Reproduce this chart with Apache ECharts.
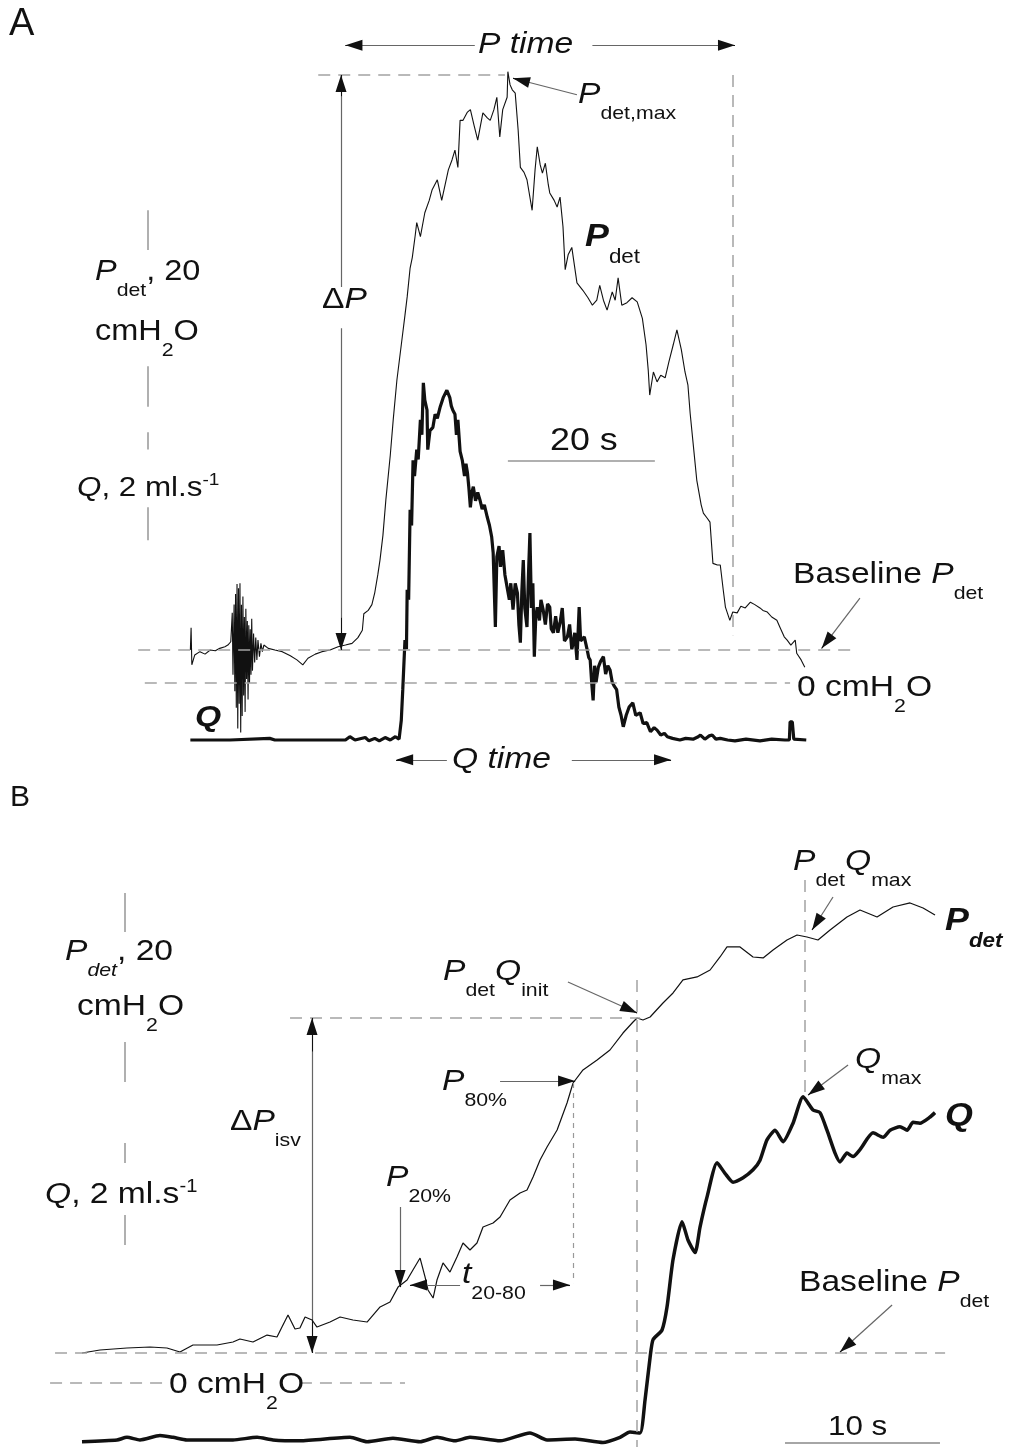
<!DOCTYPE html>
<html>
<head>
<meta charset="utf-8">
<script src="https://cdn.jsdelivr.net/npm/echarts@6/dist/echarts.min.js"></script>
<style>
  html, body { margin: 0; padding: 0; background: #fff; }
  #main { width: 1015px; height: 1447px; }
</style>
</head>
<body>
<div id="main"></div>
<script>
// ---- panel A traces: [time s, value] ----
var pdetA = [[-0.1,4.0],[0,6.7],[0.1,2.2],[0.5,3.4],[1.2,3.8],[1.9,3.5],[2.6,4.0],[3.3,3.9],[3.9,4.2],[4.6,4.4],
  [5.0,4.6],[5.4,5.0],[5.6,8.5],[5.7,1.0],[5.85,9.5],[5.95,-1.0],[6.05,10.8],[6.15,-3.0],[6.25,12.0],[6.35,-5.5],
  [6.45,11.5],[6.55,-2.5],[6.65,12.1],[6.75,-6.0],[6.85,9.5],[6.95,-4.0],[7.05,10.5],[7.15,-1.5],[7.25,8.0],[7.35,-3.5],
  [7.45,9.0],[7.55,0.5],[7.65,7.5],[7.75,-2.0],[7.85,7.0],[7.95,0.0],[8.05,6.5],[8.15,1.0],[8.25,7.8],[8.35,1.5],
  [8.5,6.0],[8.65,2.5],[8.8,5.5],[8.95,2.8],[9.1,5.2],[9.3,3.2],[9.5,4.8],[9.7,3.8],[9.9,4.6],
  [10.5,4.2],[11.4,4.0],[12.4,3.8],[13.5,3.3],[14.4,2.8],[15.2,2.2],[15.9,3.0],[16.9,3.5],[17.8,3.8],[18.9,4.0],
  [20.0,4.4],[21.0,4.6],[21.9,4.8],[22.7,5.5],[23.3,6.4],[23.5,8.4],[24.1,8.8],[24.6,9.5],[25.0,11.0],[25.4,13.1],
  [25.7,14.9],[26.1,17.9],[26.5,22.2],[27.1,27.6],[27.5,31.9],[28.0,36.7],[28.6,41.0],[29.1,44.6],[29.4,46.8],[29.8,50.3],
  [30.1,51.6],[30.5,54.3],[30.7,55.8],[31.2,54.1],[31.8,57.0],[32.4,58.5],[32.8,59.8],[33.5,61.0],[34.1,58.5],[35.0,62.2],
  [35.5,63.4],[35.9,64.6],[36.3,62.5],[36.6,68.2],[37.0,68.2],[37.6,69.2],[38.0,69.5],[38.5,67.6],[39.0,65.8],[39.7,69.1],
  [40.3,68.5],[40.7,68.2],[41.2,69.5],[41.6,71.0],[42.0,66.2],[42.4,69.5],[43.0,71.0],[43.1,74.1],[43.4,72.5],[43.7,71.9],
  [44.1,71.5],[44.5,67.0],[44.8,62.5],[45.3,61.9],[45.7,61.0],[46.4,57.3],[46.8,62.2],[47.1,65.0],[47.5,62.8],[47.8,61.8],
  [48.2,63.0],[48.6,60.4],[48.8,59.4],[49.4,58.5],[49.8,57.7],[50.2,58.9],[50.6,55.3],[50.9,50.1],[51.3,51.9],[51.8,52.8],
  [52.5,48.5],[53.3,47.6],[54.0,46.7],[54.6,45.8],[55.2,46.4],[55.6,48.2],[56.1,46.4],[56.6,45.2],[57.3,47.4],[57.7,46.4],
  [58.1,49.1],[58.6,45.8],[59.3,46.1],[60.0,46.7],[60.7,46.2],[61.4,44.2],[61.9,41.0],[62.2,37.9],[62.4,34.9],[62.9,37.7],
  [63.4,36.5],[63.9,37.3],[64.5,37.0],[65.0,38.9],[65.6,41.0],[66.1,42.8],[66.7,40.4],[67.2,37.7],[67.6,36.1],[67.9,32.7],
  [68.4,28.2],[68.8,24.6],[69.4,21.6],[69.7,20.6],[70.2,20.0],[70.6,19.5],[71.0,14.5],[71.6,14.3],[72.0,14.3],[72.4,11.3],
  [72.7,9.2],[73.3,7.6],[73.7,8.6],[74.3,8.5],[74.8,9.3],[75.4,9.1],[76.1,9.8],[76.7,9.5],[77.4,9.1],[77.8,8.8],
  [78.4,8.6],[79.0,8.0],[79.7,7.6],[80.1,6.8],[80.7,5.6],[81.1,5.2],[81.6,4.6],[82.2,5.2],[82.4,3.6],[83.0,2.8],[83.5,1.9]];

var qA = [[-0.1,0],[5.3,0],[10.7,0.02],[11.4,0],[21.0,0],[21.6,0.04],[22.3,0],[23.7,0.03],[24.2,-0.01],[25.0,0.02],
  [25.6,-0.01],[26.4,0.03],[27.1,0],[27.8,0.04],[28.3,0.01],[28.6,0.24],[28.8,0.61],[29.1,1.21],[29.3,1.1],[29.4,1.82],
  [29.6,1.7],[29.8,2.79],[30.0,2.6],[30.2,3.39],[30.4,3.2],[30.7,3.52],[30.9,3.4],[31.2,3.88],[31.4,3.7],[31.6,4.33],
  [31.8,4.12],[32.1,4.00],[32.2,3.52],[32.5,3.75],[32.9,3.79],[33.2,3.95],[33.5,3.9],[33.9,4.04],[34.3,4.15],[34.8,4.24],
  [35.2,4.15],[35.4,4.05],[35.6,4.00],[35.9,3.95],[36.1,3.7],[36.3,3.88],[36.6,3.5],[36.9,3.39],[37.2,3.2],[37.4,3.35],
  [37.6,3.24],[37.8,3.05],[38.0,2.82],[38.2,3.0],[38.4,3.07],[38.7,2.9],[39.0,3.0],[39.3,2.91],[39.6,2.8],[39.9,2.85],
  [40.3,2.70],[40.6,2.6],[40.9,2.46],[41.1,2.27],[41.4,1.37],[41.6,2.22],[41.9,2.35],[42.1,2.1],[42.4,2.30],[42.7,2.0],
  [43.0,1.85],[43.3,1.7],[43.5,1.9],[43.8,1.58],[44.1,1.9],[44.4,1.78],[44.6,1.4],[44.8,1.18],[45.0,1.8],[45.2,2.18],
  [45.4,1.6],[45.7,1.37],[45.9,2.0],[46.1,2.51],[46.3,1.6],[46.5,1.9],[46.7,1.01],[46.9,1.5],[47.1,1.61],[47.4,1.45],
  [47.6,1.7],[47.9,1.58],[48.2,1.4],[48.5,1.65],[48.8,1.61],[49.0,1.35],[49.3,1.30],[49.6,1.5],[49.9,1.3],[50.2,1.42],
  [50.5,1.6],[50.8,1.2],[51.2,1.25],[51.5,1.4],[51.8,1.1],[52.0,1.18],[52.2,1.3],[52.5,0.97],[52.8,1.61],[53.0,1.2],
  [53.2,1.18],[53.5,1.25],[53.9,1.09],[54.1,1.0],[54.3,0.97],[54.5,0.7],[54.7,0.48],[54.9,0.9],[55.1,0.7],[55.4,0.88],
  [55.7,0.95],[56.1,1.01],[56.4,0.8],[56.7,0.9],[57.0,0.85],[57.3,0.7],[57.6,0.65],[57.9,0.61],[58.2,0.4],[58.5,0.3],
  [58.8,0.16],[59.2,0.3],[59.6,0.4],[60.1,0.45],[60.5,0.3],[61.1,0.33],[61.5,0.2],[62.0,0.21],[62.5,0.1],[63.0,0.15],
  [63.4,0.12],[63.9,0.06],[64.4,0.08],[64.8,0.04],[65.5,0.02],[66.5,0],[67.3,0.02],[68.3,0.01],[69.0,0.04],[69.3,0.06],
  [69.9,0.01],[70.5,0.05],[70.9,0.06],[71.4,0.01],[72.0,0.02],[73.0,0],[74.0,-0.01],[75.5,0.01],[77.4,-0.01],[79.0,0.01],
  [80.8,0],[81.4,0],[81.5,0.22],[81.8,0.22],[82.0,0.01],[83.7,0]];

// ---- panel B traces ----
var pdetB = [[0,3.41],[1.16,3.75],[2.90,3.98],[4.39,4.09],[5.48,3.98],[6.32,3.52],[7.16,4.32],[8.71,4.32],[9.74,4.66],[10.19,5.0],
  [11.03,4.66],[11.94,5.45],[12.58,5.23],[12.90,6.36],[13.29,7.73],[13.74,6.14],[14.06,6.25],[14.39,7.5],[14.84,7.16],[15.16,6.36],
  [16.0,6.93],[16.65,7.5],[17.48,7.16],[18.39,6.93],[19.23,8.64],[19.87,9.2],[20.39,10.9],[20.97,11.7],[21.35,12.84],[21.81,14.2],
  [22.13,12.05],[22.32,10.57],[22.65,9.66],[22.9,11.7],[23.29,13.64],[23.74,12.61],[24.19,14.32],[24.58,15.91],[25.03,15.11],[25.48,15.91],
  [25.87,17.73],[26.52,18.18],[26.97,18.86],[27.61,20.8],[28.26,21.59],[28.71,21.93],[29.1,23.41],[29.55,25.34],[30.0,26.82],[30.65,28.75],
  [31.29,31.82],[31.68,34.09],[32.32,35.57],[33.23,36.7],[34.06,37.84],[34.9,39.77],[35.55,41.02],[35.81,41.48],[36.19,41.25],[36.65,41.59],
  [37.48,43.18],[38.13,44.32],[38.77,45.8],[39.68,46.14],[40.52,46.93],[41.16,48.41],[41.61,49.55],[42.45,49.55],[43.29,48.41],[43.94,48.3],
  [44.58,49.2],[45.48,50.34],[46.13,50.91],[46.77,50.68],[47.48,50.34],[48.26,51.48],[49.35,52.95],[50.19,53.75],[51.29,52.95],[52.32,54.09],
  [53.42,54.55],[54.26,53.98],[55.03,53.18]];

var qB = [[0,-0.02],[2.26,0],[2.9,0.03],[3.74,0],[5.03,0.05],[5.87,0.03],[6.77,0],[9.74,0],[11.29,0.03],[12.32,0],
  [14.06,-0.01],[17.29,0.03],[18.39,-0.02],[20.06,0.02],[21.81,-0.02],[22.9,0.03],[24.06,-0.01],[25.03,0.03],[26.97,-0.01],[28.9,0.08],
  [30.0,0],[31.81,0.01],[33.61,-0.03],[34.71,0.03],[35.35,0.09],[36.0,0.08],[36.32,0.45],[36.65,0.94],[36.84,1.14],[37.42,1.25],
  [37.74,1.51],[38.13,2.05],[38.71,2.48],[39.1,2.27],[39.55,2.13],[39.87,2.42],[40.32,2.76],[40.97,3.15],[41.48,3.03],[42.0,2.93],
  [42.65,2.98],[43.29,3.07],[43.74,3.18],[44.19,3.41],[44.71,3.52],[45.23,3.39],[45.87,3.6],[46.52,3.9],[47.16,3.75],[47.61,3.72],
  [48.06,3.52],[48.58,3.26],[48.9,3.16],[49.35,3.26],[49.74,3.22],[50.19,3.3],[51.03,3.49],[51.68,3.44],[52.13,3.52],[52.77,3.56],
  [53.23,3.52],[53.61,3.61],[54.06,3.6],[54.71,3.67],[55.03,3.72]];

// key annotation values (s, cmH2O, ml/s)
var A_base = 4.0, A_maxP = 73.7, A_tEnd = 73.7, A_bar = -5.86;
var B_base = 3.41, B_init = 41.48, B_tInit = 35.81, B_tQmax = 46.65, B_t80 = 31.68, B_p80 = 34.32, B_bar = 2.75;

var FONT = '"Liberation Sans", Arial, Helvetica, sans-serif';
var SX = 1.12;
var HEAD = 'path://M0,-18L0.01,-18M0,0L6,18L-6,18Z';
var DASH = { color: '#a3a3a3', width: 1.5, type: [12, 8] };
var BAR = { color: '#b0b0b0', width: 2, type: 'solid' };

function seg(a, b, style) {
  return [{ coord: a, symbol: 'none', lineStyle: style }, { coord: b, symbol: 'none' }];
}
function head(from, to) {
  var k = 0.9;
  var m = [from[0] + (to[0] - from[0]) * k, from[1] + (to[1] - from[1]) * k];
  return [{ coord: m, symbol: 'none', lineStyle: { color: '#111', width: 1, type: 'solid' } },
          { coord: to, symbol: HEAD, symbolSize: [11, 34] }];
}
function arrow(from, to, both) {
  var out = [seg(from, to, { color: '#666', width: 1.2, type: 'solid' }), head(from, to)];
  if (both) out.push(head(to, from));
  return out;
}
function mark(list) {
  return { silent: true, animation: false, symbol: ['none', 'none'], label: { show: false },
    emphasis: { disabled: true }, data: list };
}

function richFor(size) {
  var M = Math.round(size * 0.45);
  var sub = Math.round(size * 0.64), sup = Math.round(size * 0.6);
  var base = M + 0.8465 * size;
  function st(fs, b, style, weight) {
    return { fontSize: fs, fontFamily: FONT, fontStyle: style, fontWeight: weight, fill: '#111',
      verticalAlign: 'top', padding: [Math.max(0, Math.round(b - 0.8465 * fs)), 0, 0, 0] };
  }
  var sb = base + size * 0.53, ub = base - size * 0.42;
  return { base: base, rich: {
    n: st(size, base, 'normal', 'normal'), i: st(size, base, 'italic', 'normal'),
    b: st(size, base, 'italic', 'bold'), s: st(sub, sb, 'normal', 'normal'),
    si: st(sub, sb, 'italic', 'normal'), sb: st(sub, sb, 'italic', 'bold'),
    u: st(sup, ub, 'normal', 'normal') } };
}
function label(x, baseline, size, parts, sx) {
  var r = richFor(size);
  return { type: 'text', x: x, y: baseline - r.base, scaleX: sx || SX, z: 100, silent: true,
    style: { text: parts.map(function (p) { return '{' + p[1] + '|' + p[0] + '}'; }).join(''),
      rich: r.rich, align: 'left', verticalAlign: 'top', fill: '#111' } };
}

var texts = [
  label(9, 38, 38, [['A', 'n']], 1),
  label(478, 55, 30, [['P time', 'i']]),
  label(578, 105, 30, [['P', 'i'], ['det,max', 's']]),
  label(585, 248, 32, [['P', 'b'], ['det', 's']]),
  label(95, 282, 29, [['P', 'i'], ['det', 's'], [', 20', 'n']]),
  label(95, 342, 29, [['cmH', 'n'], ['2', 's'], ['O', 'n']]),
  label(77, 498, 28, [['Q', 'i'], [', 2 ml.s', 'n'], ['-1', 'u']]),
  label(322, 310, 30, [['\u0394', 'n'], ['P', 'i']]),
  label(550, 452, 32, [['20 s', 'n']]),
  label(793, 585, 30, [['Baseline ', 'n'], ['P', 'i'], ['det', 's']]),
  label(797, 698, 30, [['0 cmH', 'n'], ['2', 's'], ['O', 'n']]),
  label(195, 728, 30, [['Q', 'b']]),
  label(452, 770, 30, [['Q time', 'i']]),

  label(10, 808, 30, [['B', 'n']], 1),
  label(65, 962, 30, [['P', 'i'], ['det', 'si'], [', 20', 'n']]),
  label(77, 1017, 30, [['cmH', 'n'], ['2', 's'], ['O', 'n']]),
  label(45, 1205, 30, [['Q', 'i'], [', 2 ml.s', 'n'], ['-1', 'u']]),
  label(793, 872, 30, [['P', 'i'], ['det', 's'], ['Q', 'i'], ['max', 's']]),
  label(945, 932, 32, [['P', 'b'], ['det', 'sb']]),
  label(443, 982, 30, [['P', 'i'], ['det', 's'], ['Q', 'i'], ['init', 's']]),
  label(442, 1092, 30, [['P', 'i'], ['80%', 's']]),
  label(855, 1070, 30, [['Q', 'i'], ['max', 's']]),
  label(945, 1127, 32, [['Q', 'b']]),
  label(230, 1132, 30, [['\u0394', 'n'], ['P', 'i'], ['isv', 's']]),
  label(386, 1188, 30, [['P', 'i'], ['20%', 's']]),
  label(462, 1285, 30, [['t', 'i'], ['20-80', 's']]),
  label(799, 1293, 30, [['Baseline ', 'n'], ['P', 'i'], ['det', 's']]),
  label(169, 1395, 30, [['0 cmH', 'n'], ['2', 's'], ['O', 'n']]),
  label(828, 1437, 28, [['10 s', 'n']])
];

var markPA = [].concat(
  [seg([-7.2, A_base], [89.7, A_base], DASH), seg([-6.3, 0], [81.5, 0], DASH),
   seg([17.3, A_maxP], [42.7, A_maxP], DASH), seg([A_tEnd, A_maxP], [A_tEnd, 5.8], DASH),
   seg([43.1, 27.0], [63.1, 27.0], BAR),
   seg([A_bar, 57.3], [A_bar, 52.5], BAR), seg([A_bar, 38.4], [A_bar, 33.5], BAR)],
  arrow([20.4, 48.0], [20.4, A_maxP]), arrow([20.4, 43.0], [20.4, A_base]),
  arrow([38.6, 77.3], [21.0, 77.3]), arrow([54.6, 77.3], [74.0, 77.3]),
  arrow([52.5, 71.3], [43.8, 73.3]), arrow([91.0, 10.3], [85.8, 4.2])
);
var markQA = [].concat(
  [seg([A_bar, 3.73], [A_bar, 3.52], BAR), seg([A_bar, 2.82], [A_bar, 2.42], BAR)],
  arrow([34.8, -0.24], [27.9, -0.24]), arrow([51.8, -0.24], [65.3, -0.24])
);
var markPB = [].concat(
  [seg([-1.74, B_base], [55.68, B_base], DASH),
   seg([-2.06, 0], [5.35, 0], DASH), seg([14.06, 0], [20.84, 0], DASH),
   seg([13.42, B_init], [36.0, B_init], DASH),
   seg([B_tInit, 45.8], [B_tInit, -7.27], DASH),
   seg([B_tQmax, 57.16], [B_tQmax, 32.73], DASH),
   seg([B_t80, 34.09], [B_t80, 11.36], { color: '#999', width: 1.2, type: [5, 5] }),
   seg([45.35, -6.82], [55.35, -6.82], { color: '#888', width: 1.5, type: 'solid' }),
   seg([B_bar, 55.68], [B_bar, 51.25], BAR), seg([B_bar, 38.75], [B_bar, 34.2], BAR)],
  arrow([14.84, B_init], [14.84, B_base], true),
  arrow([24.39, 11.14], [21.16, 11.14]), arrow([29.55, 11.14], [31.48, 11.14]),
  arrow([20.52, 20.0], [20.52, 10.9]), arrow([26.97, B_p80], [31.81, B_p80]),
  arrow([31.35, 45.57], [35.81, 42.05]), arrow([48.45, 55.23], [47.1, 51.48]),
  arrow([52.26, 8.86], [48.9, 3.52])
);
var markQB = [].concat(
  [seg([B_bar, 3.375], [B_bar, 3.148], BAR), seg([B_bar, 2.557], [B_bar, 2.216], BAR)],
  arrow([49.42, 4.26], [46.84, 3.92])
);

function trace(name, data, x, y, width, marks, smooth) {
  return { name: name, type: 'line', xAxisIndex: x, yAxisIndex: y, data: data, symbol: 'none',
    smooth: smooth || false, animation: false, silent: true, clip: false,
    lineStyle: { color: '#111', width: width }, markLine: mark(marks) };
}

var option = {
  backgroundColor: '#fff',
  grid: [
    { left: 0, top: 0, width: 1015, height: 782 },
    { left: 0, top: 780, width: 1015, height: 667 }
  ],
  xAxis: [
    { gridIndex: 0, type: 'value', min: -26, max: 112.1, show: false },
    { gridIndex: 1, type: 'value', min: -5.29, max: 60.19, show: false }
  ],
  yAxis: [
    { gridIndex: 0, type: 'value', min: -12, max: 82.79, show: false },
    { gridIndex: 0, type: 'value', min: -0.509, max: 8.97, show: false },
    { gridIndex: 1, type: 'value', min: -7.27, max: 68.52, show: false },
    { gridIndex: 1, type: 'value', min: -0.08, max: 7.5, show: false }
  ],
  series: [
    trace('Pdet A', pdetA, 0, 0, 1.1, markPA),
    trace('Q A', qA, 0, 1, 3.2, markQA),
    trace('Pdet B', pdetB, 1, 2, 1.2, markPB),
    trace('Q B', qB, 1, 3, 3.5, markQB, 0.2)
  ],
  graphic: { elements: texts }
};

echarts.init(document.getElementById('main')).setOption(option);
</script>
</body>
</html>
